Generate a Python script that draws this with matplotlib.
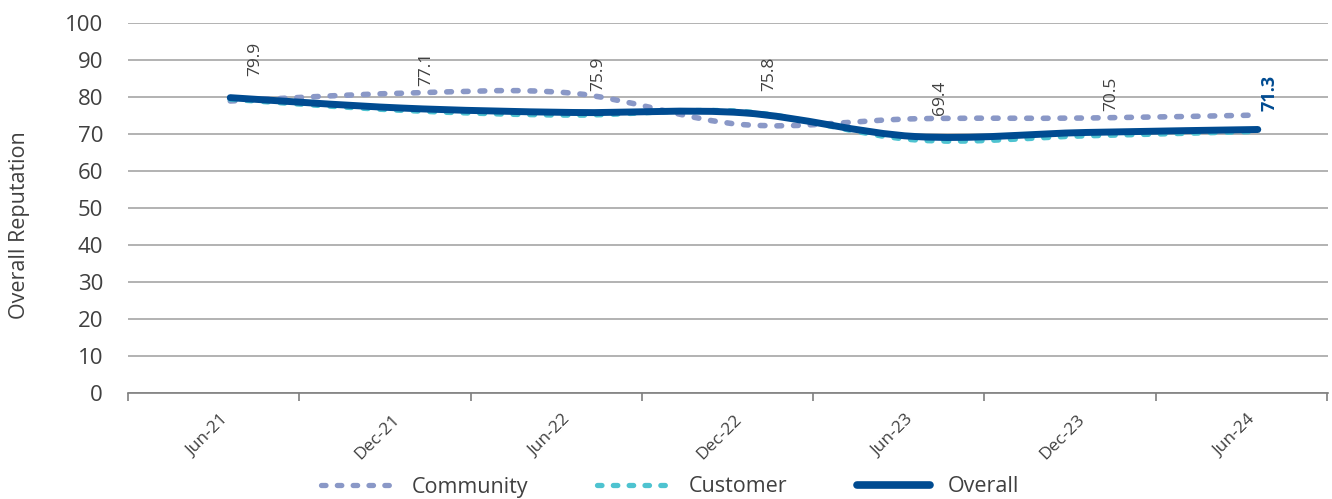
import matplotlib.pyplot as plt
from matplotlib.path import Path
from matplotlib.patches import PathPatch
from matplotlib.lines import Line2D

plt.rcParams['font.family'] = ['Open Sans', 'DejaVu Sans']

periods = ["Jun-21", "Dec-21", "Jun-22", "Dec-22", "Jun-23", "Dec-23", "Jun-24"]
community = [79.0, 81.1, 81.1, 72.6, 74.2, 74.4, 75.2]
customer = [79.5, 76.5, 75.2, 76.1, 68.5, 69.6, 70.8]
overall = [79.9, 77.1, 75.9, 75.8, 69.4, 70.5, 71.3]

C_COMMUNITY = "#8A98C7"
C_CUSTOMER = "#4EC3D0"
C_OVERALL = "#004B91"
DOTS = (0, (0.85, 2.15))


def smooth_path(ys):
    # cubic bezier segments through each point, like a spreadsheet "smoothed line"
    xs = list(range(len(ys)))
    pts = list(zip(xs, ys))
    verts = [pts[0]]
    codes = [Path.MOVETO]
    n = len(pts)
    for i in range(n - 1):
        p0 = pts[max(i - 1, 0)]
        p1 = pts[i]
        p2 = pts[i + 1]
        p3 = pts[min(i + 2, n - 1)]
        c1 = (p1[0] + (p2[0] - p0[0]) / 6, p1[1] + (p2[1] - p0[1]) / 6)
        c2 = (p2[0] - (p3[0] - p1[0]) / 6, p2[1] - (p3[1] - p1[1]) / 6)
        verts += [c1, c2, p2]
        codes += [Path.CURVE4] * 3
    return Path(verts, codes)


fig = plt.figure(figsize=(13.32, 4.99), dpi=100)
ax = fig.add_axes([0.0961, 0.2118, 0.9009, 0.7415])

ax.set_ylim(0, 100)
ax.set_xlim(-0.596, 6.41)
ax.set_yticks(range(0, 101, 10))
ax.grid(axis='y', color='#A6A6A6', linewidth=1.2)
ax.set_axisbelow(True)
for s in ['top', 'right', 'left']:
    ax.spines[s].set_visible(False)
ax.spines['bottom'].set_color('#7F7F7F')
ax.spines['bottom'].set_linewidth(1.2)
ax.tick_params(axis='y', length=0, pad=18, labelsize=16, labelcolor='#404040')

# category labels near the points, tick marks between them
ax.set_xticks([i - 0.06 for i in range(len(periods))])
ax.set_xticklabels(periods, rotation=45, ha='right', rotation_mode='anchor',
                   fontsize=12.5, color='#404040')
ax.tick_params(axis='x', which='major', length=0, pad=13)
ax.set_xticks([i - 0.597 for i in range(len(periods) + 1)], minor=True)
ax.tick_params(axis='x', which='minor', length=6, color='#7F7F7F', width=1.2)

ax.add_patch(PathPatch(smooth_path(community), fill=False, edgecolor=C_COMMUNITY,
                       linewidth=4.0, linestyle=DOTS, capstyle='round'))
ax.add_patch(PathPatch(smooth_path(customer), fill=False, edgecolor=C_CUSTOMER,
                       linewidth=4.0, linestyle=DOTS, capstyle='round'))
ax.add_patch(PathPatch(smooth_path(overall), fill=False, edgecolor=C_OVERALL,
                       linewidth=5.0, capstyle='round'))

for i, v in enumerate(overall):
    last = i == len(overall) - 1
    ax.annotate(f"{v:.1f}", (i, v), xytext=(12, 37) if last else (25, 39),
                textcoords='offset pixels', rotation=90, ha='center', va='center',
                fontsize=13 if last else 12.5,
                fontweight='bold' if last else 'normal',
                color=C_OVERALL if last else '#404040')

fig.text(20 / 1332, 1 - 225 / 499, "Overall Reputation", rotation=90,
         ha='center', va='center', fontsize=15.5, color='#404040')

handles = [
    Line2D([], [], color=C_COMMUNITY, lw=3.8, linestyle=DOTS,
           dash_capstyle='round'),
    Line2D([], [], color=C_CUSTOMER, lw=3.8, linestyle=DOTS,
           dash_capstyle='round'),
    Line2D([], [], color=C_OVERALL, lw=5.5, solid_capstyle='round'),
]
fig.legend(handles, ["Community", "Customer", "Overall"], loc='center',
           bbox_to_anchor=(0.503, 1 - 487 / 499), ncol=3, frameon=False,
           fontsize=15.5, labelcolor='#404040', handlelength=3.4,
           handletextpad=0.85, columnspacing=3.2)

fig.savefig("out.png", dpi=100)
